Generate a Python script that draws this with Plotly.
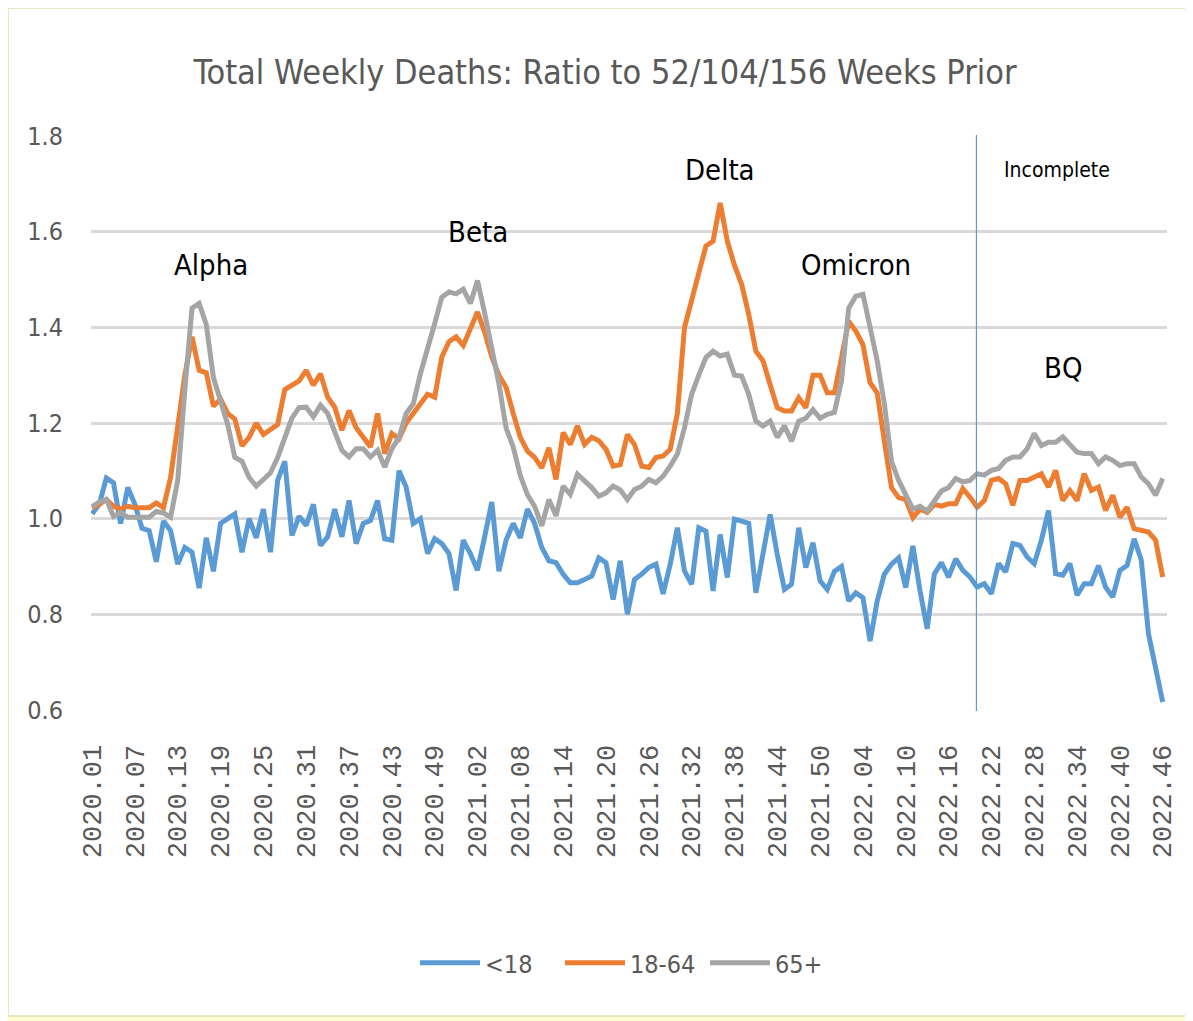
import plotly.graph_objects as go

# ---- data ----
years_weeks = [(2020, 53), (2021, 52), (2022, 46)]
week_labels = [f"{y}.{w:02d}" for y, n in years_weeks for w in range(1, n + 1)]

under18 = [
    1.01, 1.03, 1.085, 1.075, 0.99, 1.065, 1.03, 0.98, 0.975, 0.91,
    0.995, 0.975, 0.905, 0.94, 0.93, 0.855, 0.96, 0.89, 0.99, 1.0,
    1.01, 0.93, 1.0, 0.96, 1.02, 0.93, 1.08, 1.12, 0.965, 1.005,
    0.986, 1.03, 0.944, 0.962, 1.02, 0.962, 1.038, 0.948, 0.99, 0.996,
    1.038, 0.958, 0.955, 1.10, 1.066, 0.99, 1.0, 0.927, 0.958, 0.948,
    0.927, 0.85, 0.955, 0.927, 0.892, 0.962, 1.035, 0.89, 0.955, 0.99,
    0.96, 1.02, 0.99, 0.94, 0.912, 0.908, 0.884, 0.866, 0.866, 0.873,
    0.88, 0.918, 0.908, 0.831, 0.912, 0.80, 0.873, 0.884, 0.898, 0.905,
    0.843, 0.905, 0.981, 0.891, 0.863, 0.981, 0.974, 0.849, 0.967, 0.877,
    0.999, 0.995, 0.99, 0.845, 0.932, 1.009, 0.925, 0.852, 0.863, 0.981,
    0.898, 0.95, 0.87, 0.852, 0.89, 0.90, 0.828, 0.845, 0.835, 0.744,
    0.828, 0.884, 0.905, 0.918, 0.856, 0.943, 0.849, 0.77, 0.884, 0.908,
    0.878, 0.916, 0.892, 0.878, 0.857, 0.864, 0.843, 0.906, 0.889, 0.948,
    0.944, 0.92, 0.906, 0.955, 1.017, 0.885, 0.882, 0.906, 0.84, 0.864,
    0.864, 0.902, 0.857, 0.836, 0.892, 0.902, 0.958, 0.913, 0.76, 0.683,
    0.617,
]

age18_64 = [
    1.023, 1.03, 1.04, 1.026, 1.02, 1.026, 1.023, 1.024, 1.023, 1.033,
    1.023, 1.086, 1.197, 1.30, 1.38, 1.31, 1.305, 1.235, 1.25, 1.22,
    1.208, 1.152, 1.17, 1.20, 1.176, 1.187, 1.197, 1.27, 1.28, 1.288,
    1.31, 1.279, 1.303, 1.254, 1.233, 1.185, 1.226, 1.19, 1.17, 1.15,
    1.22, 1.136, 1.178, 1.167, 1.2, 1.22, 1.24, 1.26, 1.254, 1.338,
    1.37, 1.38, 1.362, 1.40, 1.432, 1.39, 1.338, 1.30, 1.275, 1.22,
    1.17, 1.141, 1.128, 1.106, 1.148, 1.082, 1.18, 1.155, 1.194, 1.155,
    1.17, 1.163, 1.145, 1.11, 1.113, 1.176, 1.155, 1.11, 1.107, 1.128,
    1.131, 1.145, 1.22, 1.40, 1.46, 1.51, 1.57, 1.58, 1.66, 1.58,
    1.53, 1.49, 1.427, 1.35, 1.33, 1.28, 1.232, 1.225, 1.225, 1.253,
    1.232, 1.30, 1.30, 1.263, 1.263, 1.336, 1.413, 1.392, 1.364, 1.284,
    1.263, 1.162, 1.065, 1.044, 1.04, 1.002, 1.02, 1.013, 1.03, 1.026,
    1.031, 1.031, 1.063, 1.045, 1.024, 1.038, 1.08, 1.084, 1.073, 1.028,
    1.08, 1.08, 1.087, 1.094, 1.066, 1.101, 1.038, 1.059, 1.038, 1.094,
    1.059, 1.066, 1.017, 1.049, 1.003, 1.024, 0.979, 0.976, 0.972, 0.955,
    0.878,
]

age65plus = [
    1.025, 1.035, 1.04, 1.005, 1.012, 1.003, 1.003, 1.003, 1.003, 1.015,
    1.012, 1.003, 1.08, 1.27, 1.44, 1.45, 1.406, 1.295, 1.246, 1.197,
    1.128, 1.12, 1.086, 1.068, 1.082, 1.096, 1.128, 1.17, 1.21, 1.232,
    1.233, 1.213, 1.237, 1.22, 1.178, 1.143, 1.129, 1.146, 1.146, 1.129,
    1.143, 1.108, 1.146, 1.17, 1.22, 1.24, 1.303, 1.352, 1.408, 1.463,
    1.474, 1.47, 1.48, 1.45, 1.498, 1.43, 1.36, 1.282, 1.19, 1.15,
    1.09, 1.05, 1.026, 0.985, 1.04, 1.006, 1.068, 1.051, 1.093, 1.079,
    1.065, 1.047, 1.054, 1.068, 1.06, 1.04, 1.061, 1.068, 1.082, 1.075,
    1.089, 1.11, 1.135, 1.19, 1.26, 1.30, 1.337, 1.35, 1.34, 1.344,
    1.30, 1.298, 1.26, 1.204, 1.194, 1.204, 1.17, 1.194, 1.162, 1.204,
    1.21, 1.228, 1.21, 1.218, 1.222, 1.288, 1.44, 1.465, 1.469, 1.40,
    1.33, 1.24, 1.12, 1.08, 1.05, 1.02, 1.026, 1.016, 1.037, 1.058,
    1.065, 1.084, 1.077, 1.08, 1.094, 1.091, 1.101, 1.105, 1.122, 1.129,
    1.129, 1.146, 1.178, 1.153, 1.16, 1.16, 1.171, 1.153, 1.139, 1.136,
    1.136, 1.115, 1.129, 1.122, 1.111, 1.115, 1.115, 1.087, 1.073, 1.049,
    1.084,
]

series_names = ["<18", "18-64", "65+"]
series_colors = ["#5B9BD5", "#ED7D31", "#A5A5A5"]

variant_labels = ["Alpha", "Beta", "Delta", "Omicron", "BQ"]
variant_weeks = ["2020.17", "2021.02", "2021.36", "2022.03", "2022.32"]
variant_levels = [1.53, 1.60, 1.728, 1.53, 1.314]

incomplete_week = "2022.20"
tick_step = 6

assert len(week_labels) == len(under18) == len(age18_64) == len(age65plus) == 151

x_idx = list(range(len(week_labels)))

NARROW = "Liberation Sans Narrow, DejaVu Sans Condensed, Arial Narrow, sans-serif"

fig = go.Figure()
for name, vals, col in zip(series_names, [under18, age18_64, age65plus], series_colors):
    fig.add_trace(go.Scatter(
        x=x_idx, y=vals, mode="lines", name=name,
        line=dict(color=col, width=5),
        hoverinfo="x+y",
    ))

# layout geometry (page has an 8px body margin, so the figure is drawn 8px in)
OFF = 8
W_fig, H_fig = 1193 - OFF, 1021 - OFF
L, R, T, B = 91 - OFF, 26, 135 - OFF, 310
pw = W_fig - L - R
ph = H_fig - T - B

def py(p):
    # page pixel y -> paper y
    return (H_fig - B - (p - OFF)) / ph

def px(p):
    # page pixel x -> paper x
    return (p - OFF - L) / pw

shapes = [
    dict(type="rect", xref="paper", yref="paper",
         x0=(0 - L) / pw, x1=(W_fig + 5 - L) / pw, y0=py(1016), y1=py(OFF),
         fillcolor="white", line=dict(color="#E6E6C4", width=2), layer="below"),
    dict(type="line", xref="x", yref="y",
         x0=week_labels.index(incomplete_week) - 0.1, x1=week_labels.index(incomplete_week) - 0.1,
         y0=0.598, y1=1.815, line=dict(color="#5B9BD5", width=1.2), layer="above"),
]

annotations = []
for lab, wk, lv in zip(variant_labels, variant_weeks, variant_levels):
    annotations.append(dict(
        x=week_labels.index(wk) + (0.6 if lab == "Alpha" else 0.0), y=lv, xref="x", yref="y",
        text=lab, showarrow=False, xanchor="center", yanchor="middle",
        font=dict(family=NARROW, size=29, color="#000000"),
    ))
annotations.append(dict(
    x=week_labels.index("2022.31") + 0.2, y=1.728, xref="x", yref="y",
    text="Incomplete", showarrow=False, xanchor="center", yanchor="middle",
    font=dict(family=NARROW, size=21, color="#000000"),
))

tickvals = x_idx[::tick_step]
ticktext = week_labels[::tick_step]

fig.update_layout(
    width=W_fig, height=H_fig,
    margin=dict(l=L, r=R, t=T, b=B, pad=0),
    paper_bgcolor="#FFFFD2",
    plot_bgcolor="white",
    title=dict(
        text="Total Weekly Deaths: Ratio to 52/104/156 Weeks Prior",
        x=(605 - OFF) / W_fig, xref="container", xanchor="center",
        y=1 - (72 - OFF) / H_fig, yref="container", yanchor="middle",
        font=dict(family=NARROW, size=34, color="#595959"),
    ),
    xaxis=dict(
        range=[-0.15, 150.6],
        tickmode="array", tickvals=tickvals, ticktext=ticktext,
        tickangle=-90,
        tickfont=dict(family="Liberation Mono, DejaVu Sans Mono, monospace", size=27, color="#595959"),
        showgrid=False, zeroline=False, showline=False,
        ticks="outside", ticklen=22, tickcolor="rgba(0,0,0,0)",
    ),
    yaxis=dict(
        range=[0.598, 1.802],
        tickmode="array", tickvals=[0.6, 0.8, 1.0, 1.2, 1.4, 1.6, 1.8],
        tickformat=".1f",
        tickfont=dict(family=NARROW, size=25, color="#595959"),
        showgrid=True, gridcolor="#D9D9D9", gridwidth=2.5,
        zeroline=False, showline=False,
        ticks="outside", ticklen=22, tickcolor="rgba(0,0,0,0)",
    ),
    legend=dict(
        orientation="h", x=px(415), xanchor="left",
        y=py(963), yanchor="middle",
        font=dict(family=NARROW, size=25, color="#595959"),
        bgcolor="rgba(0,0,0,0)", itemwidth=60,
        entrywidth=70, entrywidthmode="pixels",
    ),
    shapes=shapes,
    annotations=annotations,
    showlegend=True,
)

fig.write_html("out.html")
